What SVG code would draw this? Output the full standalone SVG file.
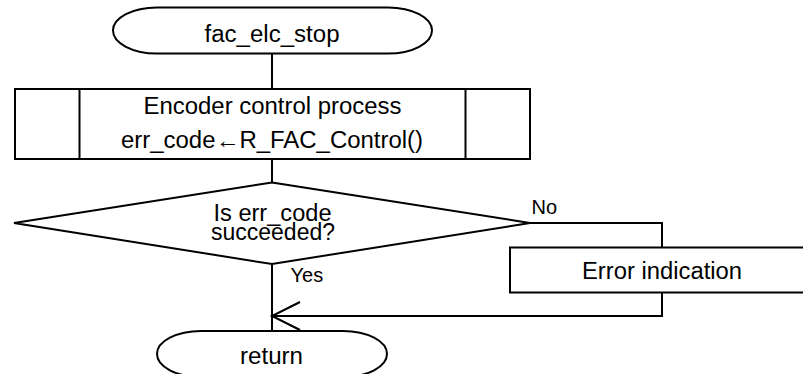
<svg xmlns="http://www.w3.org/2000/svg" width="803" height="374" viewBox="0 0 803 374">
<style>
.s{fill:#fff;stroke:#000;stroke-width:2}
.l{fill:none;stroke:#000;stroke-width:2}
text{font-family:"Liberation Sans",Arial,sans-serif;fill:#000}
.t{font-size:23px;text-anchor:middle}
.sm{font-size:20px}
</style>
<rect width="803" height="374" fill="#fff"/>
<g id="connectors">
<line class="l" x1="272" y1="53" x2="272" y2="89"/>
<line class="l" x1="272" y1="159" x2="272" y2="182.5"/>
<line class="l" x1="272" y1="264" x2="272" y2="331"/>
<polyline class="l" points="530,223 662,223 662,247"/>
<polyline class="l" points="662,293 662,316 272,316"/>
<polyline class="l" points="300,302 272,316 300,330"/>
<text class="sm" x="531.5" y="214">No</text>
<text class="sm" x="290.5" y="281.5">Yes</text>
</g>
<g id="start">
<rect class="s" x="113" y="7.5" width="319" height="46" rx="44" ry="23"/>
<text class="t" x="272" y="41.5" textLength="135" lengthAdjust="spacingAndGlyphs">fac_elc_stop</text>
</g>
<g id="process">
<rect class="s" x="15" y="89" width="515" height="70"/>
<line class="l" x1="79.5" y1="89" x2="79.5" y2="159"/>
<line class="l" x1="465.5" y1="89" x2="465.5" y2="159"/>
<text class="t" x="272.5" y="113.5" textLength="258" lengthAdjust="spacingAndGlyphs">Encoder control process</text>
<text class="t" x="272" y="148" textLength="302" lengthAdjust="spacingAndGlyphs">err_code←R_FAC_Control()</text>
</g>
<g id="decision">
<polygon class="s" points="272,182.5 530,223 272,264 14,223"/>
<text class="t" x="272.5" y="221" textLength="118" lengthAdjust="spacingAndGlyphs">Is err_code</text>
<text class="t" x="273" y="240" textLength="124" lengthAdjust="spacingAndGlyphs">succeeded?</text>
</g>
<g id="error">
<rect class="s" x="510" y="247.5" width="310" height="45"/>
<text class="t" x="662" y="278.5" textLength="160" lengthAdjust="spacingAndGlyphs">Error indication</text>
</g>
<g id="end">
<rect class="s" x="157" y="331" width="230" height="46" rx="44" ry="23"/>
<text class="t" x="271.5" y="363.5" textLength="63" lengthAdjust="spacingAndGlyphs">return</text>
</g>
</svg>
